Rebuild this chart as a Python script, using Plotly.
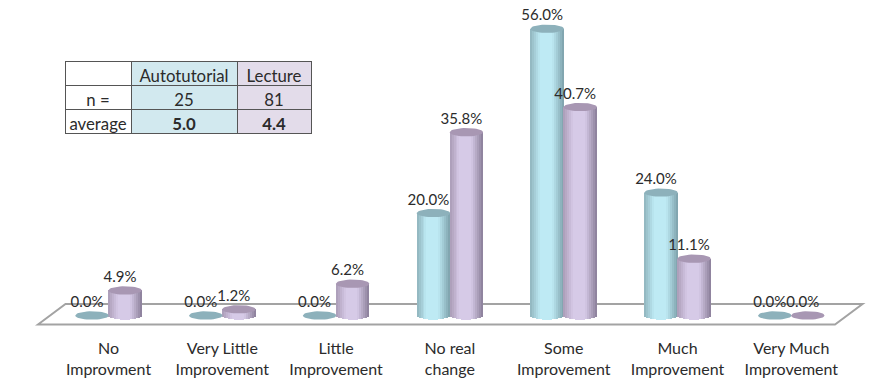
import math
import plotly.graph_objects as go

categories = ["No<br>Improvment", "Very Little<br>Improvement", "Little<br>Improvement",
              "No real<br>change", "Some<br>Improvement", "Much<br>Improvement",
              "Very Much<br>Improvement"]
autotutorial = [0.0, 0.0, 0.0, 20.0, 56.0, 24.0, 0.0]
lecture = [4.9, 1.2, 6.2, 35.8, 40.7, 11.1, 0.0]

table_rows = ["", "n =", "average"]
table_auto = ["Autotutorial", "25", "5.0"]
table_lect = ["Lecture", "81", "4.4"]

FONT = "Lato"
TEXT = "#2b2b2b"
W, H = 893, 390
PLOT_BOTTOM = 330
PX_X = 113.8          # pixels per category
PX_Y = 5.12           # pixels per percent
X0_PX, Y0_PX = 108.5, 315.5

BAR_W = 33.5 / PX_X
OFFSET = 16.5 / PX_X
CAP_H = 4.2 / PX_Y
N_STRIPS = 17

TABLE_FILLS = ["#ffffff", "#d2e9ef", "#e3dcea"]
TABLE_LINE = dict(color="#555555", width=1)
TABLE_X = [65 / W, 311 / W]
TABLE_COLS = [66, 106, 74]
TABLE_SIZE = 16.8


def xdata(px):
    return (px - X0_PX) / PX_X


def ydata(px):
    return (Y0_PX - px) / PX_Y


def mix(c1, c2, t):
    return "rgb(%d,%d,%d)" % tuple(round(a + (b - a) * t) for a, b in zip(c1, c2))


def shade(t, edge_l, mid, edge_r):
    # lit plateau in the middle of the cylinder, falling off quickly to both edges
    if t < 0.3:
        return mix(edge_l, mid, t / 0.3)
    if t > 0.65:
        return mix(mid, edge_r, (t - 0.65) / 0.35)
    return mix(mid, mid, 0)


fig = go.Figure()


def add_cylinders(values, shift, edge_l, mid, edge_r, cap_color, name):
    centers = [i + shift for i in range(len(values))]
    dx = BAR_W / N_STRIPS
    for k in range(N_STRIPS):
        t = (k + 0.5) / N_STRIPS
        u = 2 * t - 1
        sag = CAP_H * math.sqrt(1 - u * u)
        xs, ys, bases = [], [], []
        for c, v in zip(centers, values):
            if v > 0:
                xs.append(c - BAR_W / 2 + dx * (k + 0.5))
                ys.append(v + sag)
                bases.append(-sag)
        fig.add_trace(go.Bar(x=xs, y=ys, base=bases, width=dx * 1.05,
                             marker=dict(color=shade(t, edge_l, mid, edge_r), line_width=0),
                             showlegend=False, hoverinfo="skip", name=name))
    # top faces, one closed ellipse per category
    ex, ey = [], []
    for c, v in zip(centers, values):
        for a in range(41):
            ang = 2 * math.pi * a / 40
            ex.append(c + BAR_W / 2 * math.cos(ang))
            ey.append(v + CAP_H * math.sin(ang))
        ex.append(None)
        ey.append(None)
    fig.add_trace(go.Scatter(x=ex, y=ey, mode="lines", fill="toself", fillcolor=cap_color,
                             line=dict(width=0, color=cap_color),
                             showlegend=False, hoverinfo="skip"))


add_cylinders(autotutorial, -OFFSET, (143, 180, 189), (190, 234, 244), (124, 160, 170),
              "#8db1bb", "Autotutorial")
add_cylinders(lecture, OFFSET, (170, 155, 182), (214, 202, 231), (138, 126, 152),
              "#a897b3", "Lecture")

# value labels sit slightly left of their cylinders
for values, shift in ((autotutorial, -OFFSET), (lecture, OFFSET)):
    fig.add_trace(go.Scatter(
        x=[i + shift - 5 / PX_X for i in range(len(values))],
        y=[v + 12.2 / PX_Y for v in values],
        mode="text", text=["%.1f%%" % v for v in values], textposition="middle center",
        textfont=dict(family=FONT, size=15, color=TEXT),
        showlegend=False, hoverinfo="skip"))

# table of group sizes; the domain is a fraction of the plot area
fig.add_trace(go.Table(
    domain=dict(x=TABLE_X, y=[1 - 113 / PLOT_BOTTOM, 1 - 61 / PLOT_BOTTOM]),
    columnwidth=TABLE_COLS,
    header=dict(values=[table_rows[0], table_auto[0], table_lect[0]], height=24,
                fill_color=TABLE_FILLS, line=TABLE_LINE, align="center",
                font=dict(family=FONT, size=TABLE_SIZE, color=TEXT)),
    cells=dict(values=[[table_rows[1]], [table_auto[1]], [table_lect[1]]], height=24,
               fill_color=TABLE_FILLS, line=TABLE_LINE, align="center",
               font=dict(family=FONT, size=TABLE_SIZE, color=TEXT)),
))
# the averages row has bold value columns, so it is a table of its own
fig.add_trace(go.Table(
    domain=dict(x=TABLE_X, y=[1 - 140 / PLOT_BOTTOM, 1 - 109 / PLOT_BOTTOM]),
    columnwidth=TABLE_COLS,
    header=dict(values=[table_rows[2], table_auto[2], table_lect[2]], height=24,
                fill_color=TABLE_FILLS, line=TABLE_LINE, align="center",
                font=dict(family=FONT, size=TABLE_SIZE, color=TEXT,
                          weight=["normal", "bold", "bold"])),
))

# floor plane under the cylinders
floor = "M %f %f L %f %f L %f %f L %f %f Z" % (
    xdata(38), ydata(324.5), xdata(65.5), ydata(304),
    xdata(862.5), ydata(304), xdata(835), ydata(324.5))

fig.update_layout(
    width=W, height=H, autosize=False,
    margin=dict(l=0, r=0, t=0, b=H - PLOT_BOTTOM, pad=0),
    paper_bgcolor="white", plot_bgcolor="white",
    barmode="overlay", bargap=0, showlegend=False,
    font=dict(family=FONT, color=TEXT),
    xaxis=dict(range=[xdata(0), xdata(W)], tickmode="array",
               tickvals=list(range(len(categories))), ticktext=categories,
               showgrid=False, zeroline=False, showline=False,
               ticks="outside", ticklen=4, tickcolor="rgba(0,0,0,0)",
               tickfont=dict(family=FONT, size=16, color=TEXT), fixedrange=True),
    yaxis=dict(range=[ydata(PLOT_BOTTOM), ydata(0)], visible=False, fixedrange=True),
    shapes=[dict(type="path", path=floor, xref="x", yref="y", layer="below",
                 fillcolor="white", line=dict(color="#a3a3a3", width=2))],
)

fig.write_html("out.html", config=dict(displayModeBar=False))
